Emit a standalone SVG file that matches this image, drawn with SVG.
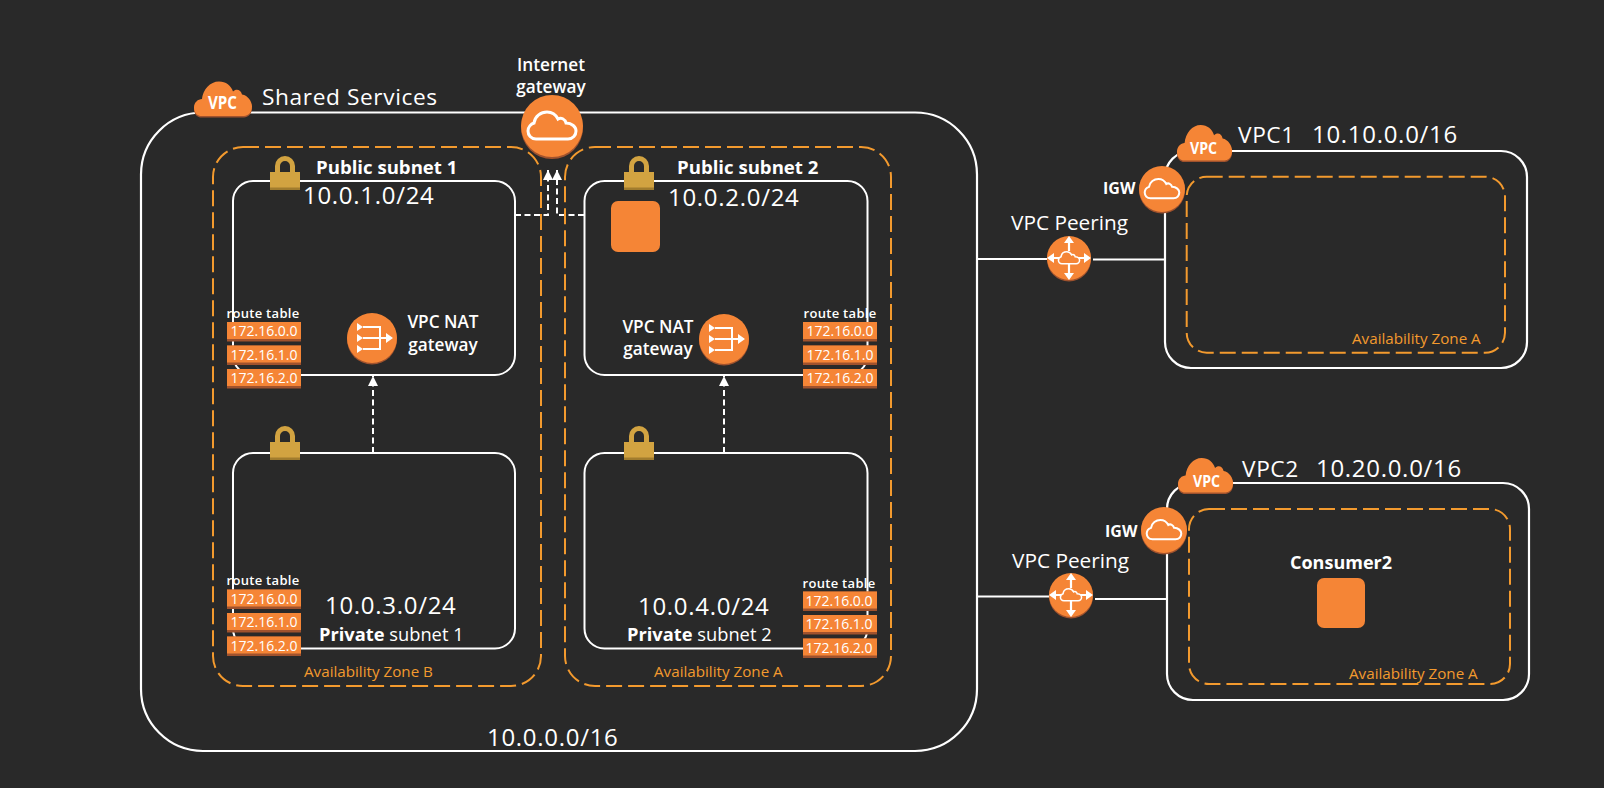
<svg xmlns="http://www.w3.org/2000/svg" width="1604" height="788" viewBox="0 0 1604 788">
<style>
text{font-family:"Open Sans","Noto Sans","Liberation Sans",sans-serif;fill:#fff}
.box{fill:none;stroke:#fff;stroke-width:2}
.az{fill:none;stroke:#f39a2e;stroke-width:2;stroke-dasharray:16 6}
.azt{fill:#f39a2e;font-size:15.2px}
.ip{font-size:24px;letter-spacing:.7px}
.b{font-weight:700;font-size:18.600px}
.c2{font-weight:700;font-size:18px;text-anchor:middle}
.igwt{font-weight:700;font-size:16px}
.s{font-weight:600;font-size:17.200px;text-anchor:middle}
.rtt{font-weight:600;font-size:13px;text-anchor:middle;letter-spacing:.3px}
.rt{font-size:14px;text-anchor:middle;font-weight:500}
.big{font-size:22.700px;letter-spacing:.6px}
.sub{font-size:18.300px}
.peer{font-size:20.800px}
.vl{font-weight:700}
.wire{fill:none;stroke:#fff;stroke-width:2}
.dash{fill:none;stroke:#fff;stroke-width:2;stroke-dasharray:6 3.5}
.o{fill:#f58536}
.od{fill:#a0522d}
.ln{fill:none;stroke:#fff;stroke-width:2.200}
</style>
<defs>
<marker id="ah" markerWidth="12" markerHeight="10" refX="10" refY="5" orient="auto" markerUnits="userSpaceOnUse"><path d="M0 0L10 5L0 10Z" fill="#fff"/></marker>
<g id="rb"><rect width="74" height="19.500" class="od"/><rect width="74" height="17" class="o"/></g>
<g id="lock"><path d="M7.500 17V10a7.500 7.500 0 0 1 15 0V17" fill="none" stroke="#d2a341" stroke-width="5"/><rect y="16" width="30" height="18" fill="#d2a341"/><rect y="31.500" width="30" height="2.500" fill="#a17c2e"/></g>
<path id="vc" d="M6 34.500C1 33 0 29 0 26C0 21 4 17.500 8 17.500C9 8 16 0 25 0C32 0 37 4 39 10C42 7 47 8 48 13C54 14 58 20 58 25C58 31 54 34.500 50 34.500Z"/>
<g id="vpcCloud"><use href="#vc" y="1.500" class="od"/><use href="#vc" class="o"/></g>
<path id="cl" d="M-16 13C-21 13-24 9-24 5C-24 1-21-2-18-3C-17-10-11-14-5-14C0-14 4-11 6-7C9-9 13-7 14-3C20-3 24 1 24 5C24 9 21 13 16 13Z"/>
<g id="igwI"><circle r="23" cy="1.500" class="od"/><circle r="23" class="o"/><use href="#cl" transform="scale(.72)" fill="none" stroke="#fff" stroke-width="2.800"/></g>
<g id="nat"><circle r="25" cy="1.500" class="od"/><circle r="25" class="o"/><path d="M-9-11H8V11H-9M-9 0H15" fill="none" stroke="#fff" stroke-width="2"/><path d="M-15-15L-9-11L-15-7ZM-15-4L-9 0L-15 4ZM-15 7L-9 11L-15 15ZM14-5L21 0L14 5Z" fill="#fff"/></g>
<g id="peerI"><circle r="22" cy="1.500" class="od"/><circle r="22" class="o"/><path d="M0-19V-7M0 6V19M-19 0H-8M8 0H19" stroke="#fff" stroke-width="2.200" fill="none"/><path d="M0-22L-5-15H5ZM0 22L-5 15H5ZM-22 0L-15-5V5ZM22 0L15-5V5Z" fill="#fff"/><use href="#cl" transform="scale(.44)" class="o" stroke="#fff" stroke-width="3.500"/></g>
</defs>
<rect width="1604" height="788" fill="#292929"/>

<g id="connectors">
<path class="wire" d="M977 259H1048M1093 259.500H1165"/>
<path class="wire" d="M977 596.500H1049M1095 599H1167"/>
<path class="dash" d="M515 215H548V170" marker-end="url(#ah)"/>
<path class="dash" d="M584 215H557V170" marker-end="url(#ah)"/>
<path class="dash" d="M373 453V376" marker-end="url(#ah)"/>
<path class="dash" d="M724 453V376" marker-end="url(#ah)"/>
</g>

<g id="vpc-shared">
<rect class="ln" x="141" y="112.500" width="836" height="638.500" rx="62"/>
<use href="#vpcCloud" x="194" y="81.500"/>
<text x="208" y="109" font-size="18" class="vl" textLength="29" lengthAdjust="spacingAndGlyphs">VPC</text>
<text x="262" y="105" class="big">Shared Services</text>
<text x="487" y="746" class="ip">10.0.0.0/16</text>
</g>

<g id="az-b"><rect class="az" x="213" y="147" width="328" height="539" rx="30"/><text class="azt" x="304" y="676.500">Availability Zone B</text></g>
<g id="az-a"><rect class="az" x="565" y="147" width="326" height="539" rx="30"/><text class="azt" x="654" y="676.500">Availability Zone A</text></g>

<g id="public-1"><rect class="box" x="233" y="181" width="282" height="194" rx="20"/>
<use href="#lock" x="270" y="156"/>
<text class="b" x="316" y="174">Public subnet 1</text><text class="ip" x="303" y="204">10.0.1.0/24</text></g>
<g id="public-2"><rect class="box" x="584.500" y="181" width="283" height="194" rx="20"/>
<use href="#lock" x="624" y="156"/>
<text class="b" x="677" y="174">Public subnet 2</text><text class="ip" x="668" y="206">10.0.2.0/24</text>
<rect x="611" y="201" width="49" height="51" rx="7" class="o"/></g>
<g id="private-1"><rect class="box" x="233" y="453" width="282" height="195.500" rx="20"/>
<use href="#lock" x="270" y="426"/>
<text class="ip" x="325" y="614">10.0.3.0/24</text><text x="319" y="640.500" class="sub"><tspan font-weight="700">Private</tspan> subnet 1</text></g>
<g id="private-2"><rect class="box" x="584.500" y="453" width="283" height="195.500" rx="20"/>
<use href="#lock" x="624" y="426"/>
<text class="ip" x="638" y="615">10.0.4.0/24</text><text x="627" y="640.500" class="sub"><tspan font-weight="700">Private</tspan> subnet 2</text></g>

<g id="rt-public-1"><text class="rtt" x="263" y="317.500">route table</text>
<use href="#rb" x="227" y="322"/><use href="#rb" x="227" y="345.500"/><use href="#rb" x="227" y="369"/>
<text class="rt" x="264" y="336">172.16.0.0</text><text class="rt" x="264" y="359.500">172.16.1.0</text><text class="rt" x="264" y="383">172.16.2.0</text></g>
<g id="rt-public-2"><text class="rtt" x="840" y="317.500">route table</text>
<use href="#rb" x="803" y="322"/><use href="#rb" x="803" y="345.500"/><use href="#rb" x="803" y="369"/>
<text class="rt" x="840" y="336">172.16.0.0</text><text class="rt" x="840" y="359.500">172.16.1.0</text><text class="rt" x="840" y="383">172.16.2.0</text></g>
<g id="rt-private-1"><text class="rtt" x="263" y="585">route table</text>
<use href="#rb" x="227" y="589.500"/><use href="#rb" x="227" y="613"/><use href="#rb" x="227" y="636.500"/>
<text class="rt" x="264" y="603.500">172.16.0.0</text><text class="rt" x="264" y="627">172.16.1.0</text><text class="rt" x="264" y="650.500">172.16.2.0</text></g>
<g id="rt-private-2"><text class="rtt" x="839" y="588">route table</text>
<use href="#rb" x="803" y="591.500"/><use href="#rb" x="803" y="615"/><use href="#rb" x="803" y="638.500"/>
<text class="rt" x="839" y="605.500">172.16.0.0</text><text class="rt" x="839" y="629">172.16.1.0</text><text class="rt" x="839" y="652.500">172.16.2.0</text></g>

<g id="nat-1"><use href="#nat" x="372" y="338"/><text class="s" x="443" y="328">VPC NAT</text><text class="s" x="443" y="350.500">gateway</text></g>
<g id="nat-2"><use href="#nat" x="724" y="339"/><text class="s" x="658" y="333">VPC NAT</text><text class="s" x="658" y="355">gateway</text></g>

<g id="internet-gateway"><circle cx="552" cy="128" r="31" class="od"/><circle cx="552" cy="126" r="31" class="o"/>
<use href="#cl" transform="translate(552 126)" fill="none" stroke="#fff" stroke-width="3"/>
<text class="s" x="551" y="71">Internet</text><text class="s" x="551" y="93">gateway</text></g>

<g id="vpc1"><rect class="ln" x="1165" y="151" width="362" height="217" rx="26"/>
<rect class="az" x="1186.700" y="176.700" width="318.300" height="176" rx="20"/>
<text class="azt" x="1352" y="344">Availability Zone A</text>
<use href="#vpcCloud" transform="translate(1177 125) scale(.95 1.030)"/>
<text x="1190" y="154" font-size="16.500" class="vl" textLength="27" lengthAdjust="spacingAndGlyphs">VPC</text>
<text x="1238" y="143" class="big">VPC1<tspan class="ip" x="1312">10.10.0.0/16</tspan></text>
<use href="#igwI" x="1162" y="189"/><text class="igwt" x="1103" y="194">IGW</text></g>

<g id="vpc2"><rect class="ln" x="1167" y="483" width="362" height="217" rx="26"/>
<rect class="az" x="1189" y="509" width="321" height="175" rx="20"/>
<text class="azt" x="1349" y="679">Availability Zone A</text>
<use href="#vpcCloud" transform="translate(1178 458) scale(.95 1)"/>
<text x="1193" y="486.500" font-size="16.500" class="vl" textLength="27" lengthAdjust="spacingAndGlyphs">VPC</text>
<text x="1242" y="477" class="big">VPC2<tspan class="ip" x="1316">10.20.0.0/16</tspan></text>
<use href="#igwI" x="1164" y="530"/><text class="igwt" x="1105" y="537">IGW</text></g>

<g id="consumer2"><text class="c2" x="1341" y="569">Consumer2</text><rect x="1317" y="578" width="48" height="50" rx="7" class="o"/></g>

<g id="peering-1"><use href="#peerI" x="1069" y="258"/><text class="peer" x="1011" y="230">VPC Peering</text></g>
<g id="peering-2"><use href="#peerI" x="1071" y="595"/><text class="peer" x="1012" y="568">VPC Peering</text></g>
</svg>
